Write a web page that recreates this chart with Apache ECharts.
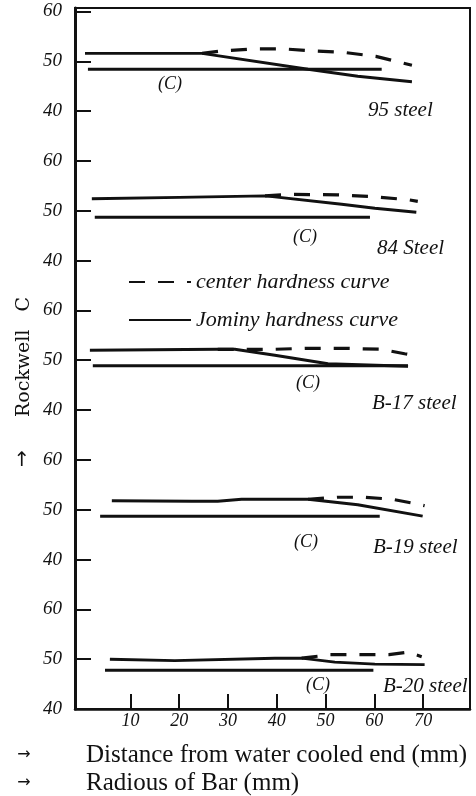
<!DOCTYPE html>
<html><head><meta charset="utf-8">
<script src="https://cdn.jsdelivr.net/npm/echarts@6/dist/echarts.min.js"></script>
<style>html,body{margin:0;padding:0;background:#fff}#c{width:476px;height:796px}</style>
</head><body><div id="c"></div>
<script>
// ---- data ----
const xTicks = [10, 20, 30, 40, 50, 60, 70];
const panelTicks = [40, 50, 60];
const steelNames = ['95 steel', '84 Steel', 'B-17 steel', 'B-19 steel', 'B-20 steel'];

const jominy95  = [[0.7,51.6],[24.7,51.6],[46.4,48.4],[56.6,47.0],[67.7,45.9]];
const center95  = [[24.7,51.6],[28.8,52.1],[35.3,52.5],[41.3,52.5],[47.4,52.1],[53.6,51.8],[60.3,51.0],[67.7,49.2]];
const c95       = [[1.3,48.4],[61.5,48.4]];

const jominy84  = [[2.1,52.4],[20.0,52.7],[37.6,53.0],[39.6,52.8],[53.3,51.3],[60.1,50.5],[68.6,49.7]];
const center84  = [[37.6,53.0],[42.7,53.3],[52.5,53.2],[60.1,52.8],[67.1,52.2],[68.9,51.9]];
const c84       = [[2.7,48.7],[59.1,48.7]];

const jominyB17 = [[1.7,52.0],[27.9,52.2],[31.4,52.2],[39.6,51.0],[50.5,49.3],[66.9,48.8]];
const centerB17 = [[27.9,52.2],[39.6,52.2],[46.4,52.4],[53.7,52.4],[61.5,52.2],[66.2,51.3],[69.3,50.8]];
const cB17      = [[2.3,48.9],[66.9,48.9]];

const jominyB19 = [[6.2,51.8],[22.6,51.7],[27.9,51.7],[32.8,52.1],[46.4,52.1],[56.6,51.0],[69.9,48.7]];
const centerB19 = [[46.4,52.1],[52.4,52.5],[58.1,52.5],[63.6,52.1],[69.0,51.1],[70.3,50.8]];
const cB19      = [[3.8,48.7],[61.1,48.7]];

const jominyB20 = [[5.8,50.0],[19.1,49.7],[39.6,50.2],[45.1,50.2],[51.9,49.4],[60.1,49.0],[70.3,48.9]];
const centerB20 = [[45.1,50.2],[50.9,50.9],[57.5,50.9],[63.0,50.9],[66.9,51.4],[69.7,50.5]];
const cB20      = [[4.8,47.8],[59.8,47.8]];

const panels = [
  {jominy: jominy95,  center: center95,  c: c95},
  {jominy: jominy84,  center: center84,  c: c84},
  {jominy: jominyB17, center: centerB17, c: cB17},
  {jominy: jominyB19, center: centerB19, c: cB19},
  {jominy: jominyB20, center: centerB20, c: cB20}
];

// ---- layout: panels stacked on one continuous axis (each panel 40..60, 30 units apart) ----
const SPAN = 30;
const nP = panels.length;
const baseOf = i => (nP - 1 - i) * SPAN;
const toV = (i, y) => y - panelTicks[0] + baseOf(i);

const INK = '#111';
const hand = 'Liberation Serif';
const series = [];
panels.forEach((p, i) => {
  const mk = (name, d, dash, w) => ({
    type: 'line', name, data: d.map(([x, y]) => [x, toV(i, y)]),
    symbol: 'none', silent: true, animation: false, smooth: false,
    lineStyle: {color: INK, width: w, type: dash ? [16, 13] : 'solid', cap: 'butt'},
    itemStyle: {color: INK}, z: dash ? 3 : 4
  });
  series.push(mk('Jominy hardness curve', p.jominy, false, 2.9));
  series.push(mk('center hardness curve', p.center, true, 3.2));
  series.push(mk('(C)', p.c, false, 3));
});

const yTickVals = [];
for (let i = nP - 1; i >= 0; i--) panelTicks.forEach(t => yTickVals.push(toV(i, t)));

const txt = (x, y, text, opt) => Object.assign({
  type: 'text', x, y, silent: true,
  style: Object.assign({text, fill: INK, font: 'italic 18px "' + hand + '"', textAlign: 'left', textVerticalAlign: 'middle'}, opt || {})
});

const panelLabels = [
  {c: [170, 84],  s: [368, 110]},
  {c: [305, 237], s: [377, 248]},
  {c: [308, 383], s: [372, 403]},
  {c: [306, 542], s: [373, 547]},
  {c: [318, 685], s: [383, 686]}
];
const graphics = [];
panelLabels.forEach((pl, i) => {
  graphics.push(txt(pl.c[0], pl.c[1], '(C)', {textAlign: 'center'}));
  graphics.push(txt(pl.s[0], pl.s[1], steelNames[i], {font: 'italic 21px "' + hand + '"'}));
});
graphics.push({type: 'text', x: 24, y: 357, rotation: Math.PI / 2, silent: true,
  style: {text: 'Rockwell   C', fill: INK, font: '19px "DejaVu Serif"', textAlign: 'center', textVerticalAlign: 'middle'}});
graphics.push(txt(22, 461, '↑', {font: '20px "DejaVu Sans"', textAlign: 'center'}));
graphics.push(txt(24, 755, '→', {font: '16px "DejaVu Sans"', textAlign: 'center'}));
graphics.push(txt(24, 783, '→', {font: '16px "DejaVu Sans"', textAlign: 'center'}));
graphics.push(txt(86, 755, 'Distance from water cooled end (mm)', {font: '25px "Liberation Serif"'}));
graphics.push(txt(86, 783, 'Radious of Bar (mm)', {font: '25px "Liberation Serif"'}));

const chart = echarts.init(document.getElementById('c'), null, {renderer: 'canvas'});
chart.setOption({
  backgroundColor: '#fff',
  animation: false,
  grid: {left: 75, right: 6, top: 8, bottom: 87, show: true, borderColor: INK, borderWidth: 2, backgroundColor: 'transparent'},
  xAxis: {
    type: 'value', min: -1.35, max: 79.6,
    splitLine: {show: false},
    axisLine: {show: true, onZero: false, lineStyle: {color: INK, width: 2.5}},
    axisTick: {show: true, inside: true, length: 15, customValues: xTicks, lineStyle: {color: INK, width: 2}},
    axisLabel: {show: true, customValues: xTicks, margin: 3, color: INK, fontFamily: hand, fontStyle: 'italic', fontSize: 18}
  },
  yAxis: {
    type: 'value', min: 0, max: 140.7,
    splitLine: {show: false},
    axisLine: {show: true, onZero: false, lineStyle: {color: INK, width: 3}},
    axisTick: {show: true, inside: true, length: 16, customValues: yTickVals, lineStyle: {color: INK, width: 2}},
    axisLabel: {show: true, customValues: yTickVals, margin: 13, color: INK, fontFamily: hand, fontStyle: 'italic', fontSize: 19,
      formatter: v => String(panelTicks[Math.round(((v % SPAN) + SPAN) % SPAN / 10)])}
  },
  legend: {
    data: ['center hardness curve', 'Jominy hardness curve'],
    orient: 'vertical', left: 123, top: 266, itemWidth: 62, itemHeight: 20, itemGap: 16,
    selectedMode: false,
    itemStyle: {opacity: 0, color: 'transparent', borderWidth: 0},
    textStyle: {color: INK, fontFamily: hand, fontStyle: 'italic', fontSize: 22}
  },
  series,
  graphic: graphics
});
</script>
</body></html>
